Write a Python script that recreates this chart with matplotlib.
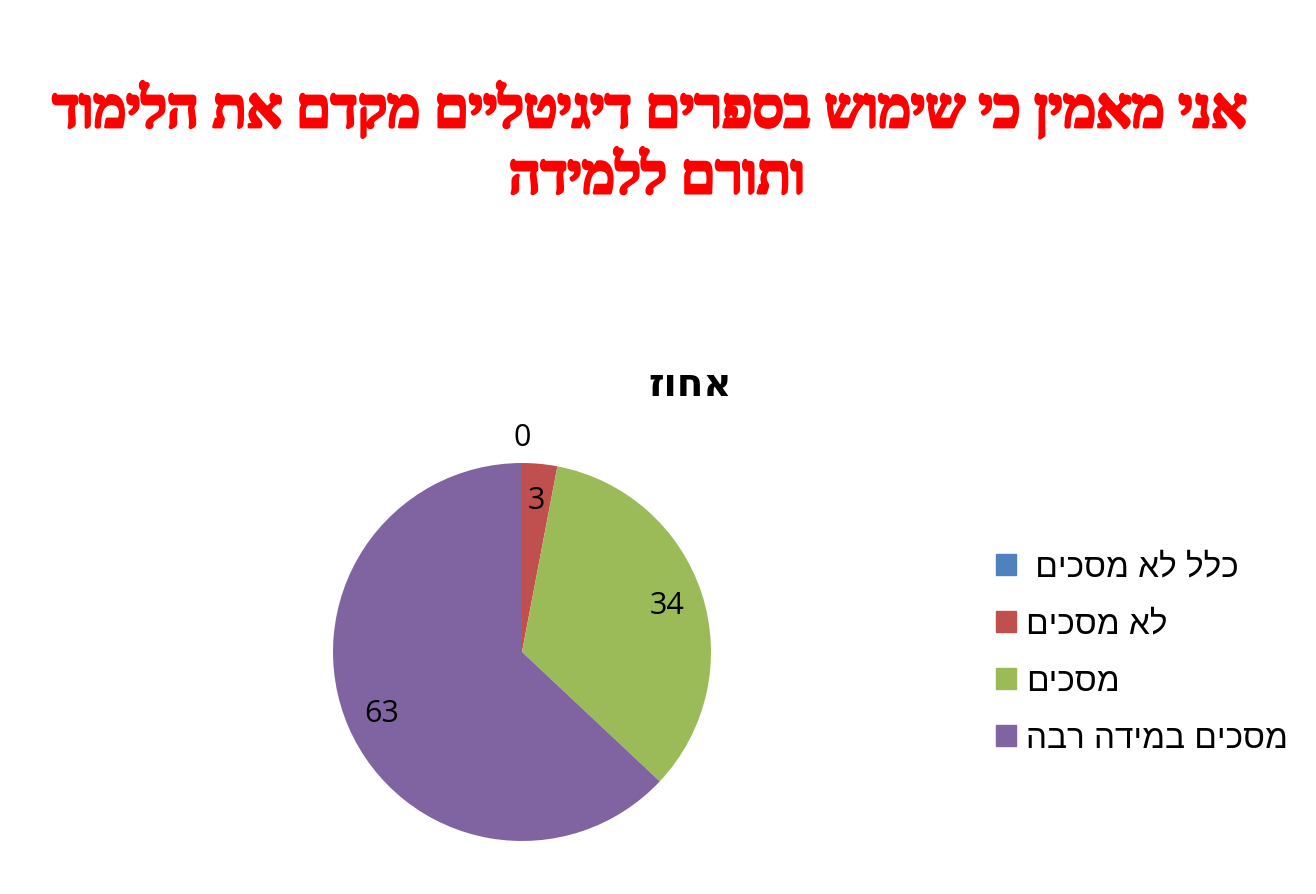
import matplotlib.pyplot as plt
import matplotlib.patches as mpatches
import matplotlib.patheffects as pe
import numpy as np

# Hebrew is right-to-left, matplotlib draws left-to-right, so strings get reversed
def rtl(s):
    return s[::-1]

title_lines = ["אני מאמין כי שימוש בספרים דיגיטליים מקדם את הלימוד", "ותורם ללמידה"]
subtitle = "אחוז"
categories = ["כלל לא מסכים ", "לא מסכים", "מסכים", "מסכים במידה רבה"]
values = [0, 3, 34, 63]
colors = ["#4F81BD", "#C0504D", "#9BBB59", "#8064A2"]

W, H = 1316, 895
fig = plt.figure(figsize=(W / 100, H / 100), dpi=100)

# pie centre at (522, 653) px, radius ~189 px
lim = 1.2
side = 2 * 189 * lim
cx, cy = 522, H - 653
ax = fig.add_axes([(cx - side / 2) / W, (cy - side / 2) / H, side / W, side / H])

wedges, _ = ax.pie(values, colors=colors, startangle=90, counterclock=False,
                   radius=1, wedgeprops=dict(linewidth=0))
ax.set_xlim(-lim, lim)
ax.set_ylim(-lim, lim)
ax.set_aspect('equal')
ax.axis('off')

# data labels
total = sum(values)
start = 90.0
for v in values:
    span = 360.0 * v / total
    mid = np.deg2rad(start - span / 2)
    r = 1.14 if v == 0 else 0.81
    ax.text(r * np.cos(mid), r * np.sin(mid), str(v), ha='center', va='center',
            fontsize=22, family='Open Sans', clip_on=False)
    start -= span

# title is heavy bold serif; thicken with a stroke
bold = [pe.withStroke(linewidth=2.2, foreground='#FF0000')]
fig.text(0.493, 1 - 111 / H, rtl(title_lines[0]), ha='center', va='center',
         fontsize=40, fontweight='bold', color='#FF0000', family='Liberation Serif',
         path_effects=bold)
fig.text(0.499, 1 - 180 / H, rtl(title_lines[1]), ha='center', va='center',
         fontsize=40, fontweight='bold', color='#FF0000', family='Liberation Serif',
         path_effects=bold)

fig.text(690 / W, 1 - 385 / H, rtl(subtitle), ha='center', va='center',
         fontsize=28, fontweight='bold', family='DejaVu Sans')

handles = [mpatches.Patch(color=c) for c in colors]
fig.legend(handles, [rtl(c) for c in categories], loc='upper left',
           bbox_to_anchor=(996 / W, 1 - 553 / H), frameon=False,
           prop={'family': 'Liberation Sans', 'size': 24},
           handlelength=0.6, handleheight=0.6, handletextpad=0.3,
           labelspacing=0.78, borderpad=0, borderaxespad=0)

fig.savefig('out.png', dpi=100)
